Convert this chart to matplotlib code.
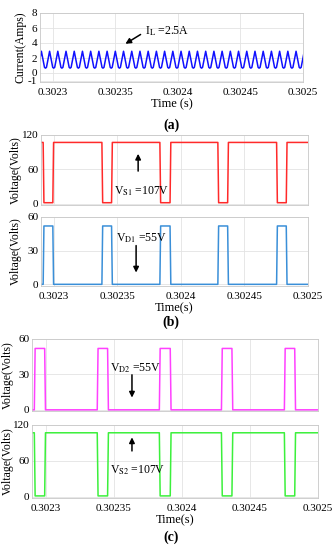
import matplotlib
matplotlib.use('Agg')
import matplotlib.pyplot as plt
import numpy as np

plt.rcParams['font.family'] = ['Liberation Serif', 'DejaVu Serif']
plt.rcParams['mathtext.fontset'] = 'stix'

# ---- data ----
t_lim = (0.30229, 0.3025)
t_ticks = [0.3023, 0.30235, 0.3024, 0.30245, 0.3025]
t_tick_labels = ['0.3023', '0.30235', '0.3024', '0.30245', '0.3025']

# inductor current: one ripple cycle (offsets in microseconds, amps), repeated
il_cycle_us = [0.0, 0.8, 3.3, 5.8, 6.56]
il_cycle_a = [0.65, 0.75, 2.9, 0.75, 0.65]
il_cycles = 33

# switching edges (switch off / diode on intervals)
off_start = [0.3022917, 0.3023379, 0.3023835, 0.3024291, 0.3024753]
off_end = [0.3022993, 0.3023455, 0.3023915, 0.3024368, 0.3024829]
edge_us = 0.6  # rise/fall time

v_switch_high = 107.0
v_switch_low = 1.5
v_diode_high = 52.0
v_diode_low = 0.0


def square(starts, ends, high, low, inside_high):
    ts = [t_lim[0]]
    vs = [low if inside_high else high]
    for s, e in zip(starts, ends):
        a, b = (high, low) if not inside_high else (low, high)
        ts += [s, s + edge_us * 1e-6, e, e + edge_us * 1e-6]
        vs += [a, b, b, a]
    ts.append(t_lim[1])
    vs.append(vs[-1])
    return np.array(ts), np.array(vs)


# build the current waveform by repeating the cycle
il_t = []
il_a = []
for k in range(il_cycles):
    for dt, a in zip(il_cycle_us[:-1], il_cycle_a[:-1]):
        il_t.append(t_lim[0] - 2.2e-6 + (k * il_cycle_us[-1] + dt) * 1e-6)
        il_a.append(a)
il_t = np.array(il_t)
il_a = np.array(il_a)

W, H = 336, 550
fig = plt.figure(figsize=(W / 100, H / 100), dpi=100)


def box(l, t, r, b):
    return [l / W, 1 - b / H, (r - l) / W, (b - t) / H]


def style(ax, yticks, ylim, show_x, label_x):
    ax.set_xlim(*t_lim)
    ax.set_ylim(*ylim)
    ax.set_yticks(yticks)
    ax.set_yticklabels([str(v) for v in yticks])
    ax.set_xticks(t_ticks)
    if show_x:
        ax.set_xticklabels(t_tick_labels)
    else:
        ax.set_xticklabels([])
    ax.tick_params(axis='y', length=0, labelsize=8, pad=2)
    ax.tick_params(axis='x', length=0, labelsize=8, pad=4)
    ax.grid(True, color='#e3e3e3', linewidth=0.6)
    ax.set_axisbelow(True)
    for s in ax.spines.values():
        s.set_color('#c8c8c8')
        s.set_linewidth(0.6)
    ax.set_ylabel('Voltage(Volts)', fontsize=8.5)
    ax.yaxis.set_label_coords(label_x, 0.5)


arrow = dict(arrowstyle='-|>', color='black', lw=1.1, mutation_scale=8)

# ---- (a) inductor current ----
ax1 = fig.add_axes(box(40, 13, 303, 82))
ax1.plot(il_t, il_a, color='#1010ff', linewidth=1.1)
style(ax1, [-1, 0, 2, 4, 6, 8], (-1.2, 8), True, -0.05)
ax1.set_ylabel('Current(Amps)', fontsize=8.5)
ax1.set_xlabel('Time (s)', fontsize=9, labelpad=1)
ax1.annotate('', xy=(0.3023563, 3.7), xytext=(0.3023722, 5.33), arrowprops=arrow)
ax1.text(0.3023738, 5.5, r'I$_{\mathrm{L}}$ =2.5A', fontsize=8.5, va='center')
fig.text(171 / W, 1 - 125 / H, '(a)', fontsize=10, fontweight='bold', ha='center', va='center')

# ---- (b) switch S1 and diode D1 ----
ax2 = fig.add_axes(box(41, 135, 308, 205))
t, v = square(off_start, off_end, v_switch_high, v_switch_low, False)
ax2.plot(t, v, color='#ff2a2a', linewidth=1.1)
style(ax2, [0, 60, 120], (-2.5, 120), False, -0.072)
ax2.annotate('', xy=(0.3023664, 92), xytext=(0.3023664, 52), arrowprops=arrow)
ax2.text(0.3023476, 21, r'V$_{\mathrm{S1}}$ =107V', fontsize=8.5, va='center')

ax3 = fig.add_axes(box(41, 217, 308, 286))
t, v = square(off_start, off_end, v_diode_high, v_diode_low, True)
ax3.plot(t, v, color='#3a8fd8', linewidth=1.1)
style(ax3, [0, 30, 60], (-1.5, 60), True, -0.072)
ax3.set_xlabel('Time(s)', fontsize=9, labelpad=1)
ax3.annotate('', xy=(0.3023648, 8), xytext=(0.3023648, 37), arrowprops=arrow)
ax3.text(0.3023492, 41, r'V$_{\mathrm{D1}}$ =55V', fontsize=8.5, va='center')
fig.text(171 / W, 1 - 322 / H, '(b)', fontsize=10, fontweight='bold', ha='center', va='center')

# ---- (c) diode D2 and switch S2 ----
ax4 = fig.add_axes(box(32, 339, 318, 411))
t, v = square(off_start, off_end, v_diode_high, v_diode_low, True)
ax4.plot(t, v, color='#ff40ff', linewidth=1.1)
style(ax4, [0, 30, 60], (-1, 60), False, -0.062)
ax4.annotate('', xy=(0.3023634, 8), xytext=(0.3023634, 32), arrowprops=arrow)
ax4.text(0.3023473, 35.5, r'V$_{\mathrm{D2}}$ =55V', fontsize=8.5, va='center')

ax5 = fig.add_axes(box(32, 425, 318, 498))
t, v = square(off_start, off_end, v_switch_high, v_switch_low, False)
ax5.plot(t, v, color='#3cf03c', linewidth=1.1)
style(ax5, [0, 60, 120], (-2, 120), True, -0.062)
ax5.set_xlabel('Time(s)', fontsize=9, labelpad=1)
ax5.annotate('', xy=(0.3023634, 104), xytext=(0.3023634, 72), arrowprops=arrow)
ax5.text(0.3023473, 45, r'V$_{\mathrm{S2}}$ =107V', fontsize=8.5, va='center')
fig.text(171 / W, 1 - 537 / H, '(c)', fontsize=10, fontweight='bold', ha='center', va='center')

fig.savefig('out.png', dpi=100)
